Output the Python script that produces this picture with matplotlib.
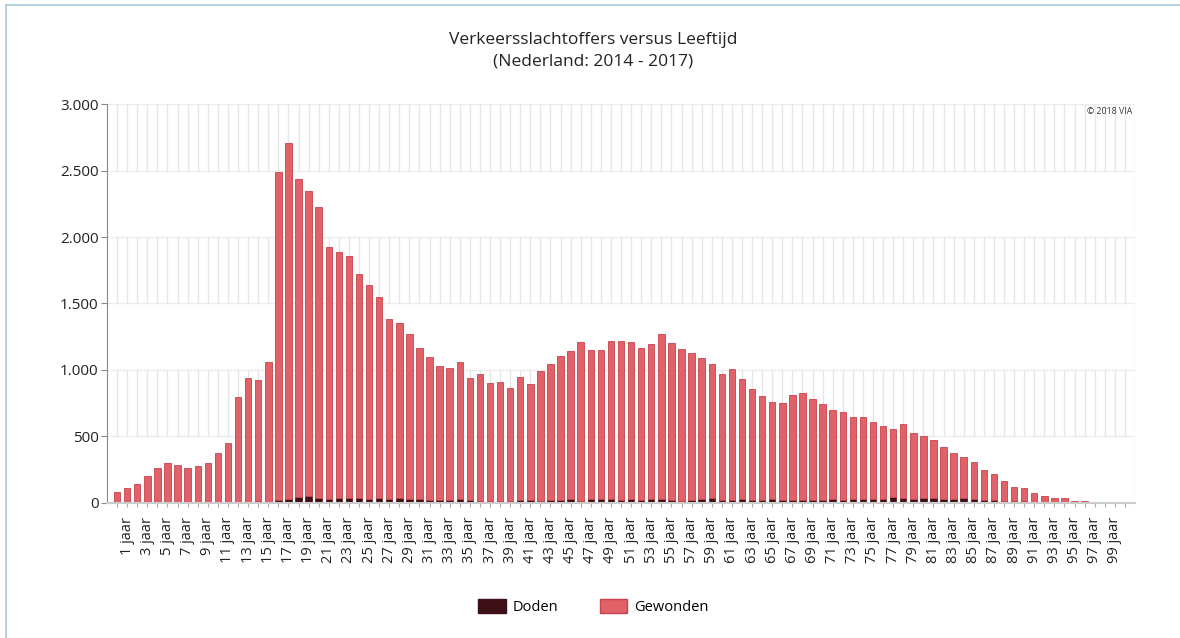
import numpy as np
import matplotlib
matplotlib.use("Agg")
import matplotlib.pyplot as plt
from matplotlib.ticker import FuncFormatter
from matplotlib.lines import Line2D

plt.rcParams['font.family'] = ['Open Sans', 'DejaVu Sans']

# leeftijd 0..100 jaar
ages = list(range(101))
age_labels = [f"{a} jaar" if a % 2 == 1 else "" for a in ages]

doden = [1, 1, 2, 5, 3, 3, 2, 2, 2, 3, 5, 3, 3, 4, 10, 8, 20, 25, 43, 48,
         35, 28, 33, 35, 35, 28, 35, 28, 33, 28, 25, 20, 20, 20, 30, 20, 15, 15, 15, 12,
         23, 23, 15, 20, 23, 28, 15, 28, 28, 28, 23, 28, 18, 28, 28, 20, 15, 23, 25, 38,
         18, 20, 25, 23, 18, 30, 18, 20, 20, 20, 18, 25, 18, 25, 28, 28, 25, 45, 33, 28,
         35, 35, 25, 28, 33, 25, 20, 20, 15, 15, 12, 8, 8, 3, 2, 1, 1, 0, 0, 0,
         0]

gewonden = [82, 107, 141, 196, 256, 293, 279, 257, 272, 293, 366, 444, 790, 935, 911, 1049,
            2467, 2683, 2392, 2296, 2189, 1895, 1855, 1822, 1687, 1609, 1511, 1355, 1317, 1240,
            1140, 1074, 1009, 992, 1028, 916, 951, 884, 891, 849, 921, 871, 976, 1022, 1084,
            1114, 1195, 1122, 1124, 1187, 1192, 1179, 1144, 1167, 1242, 1182, 1142, 1101, 1062,
            1004, 948, 984, 904, 835, 788, 731, 730, 793, 808, 758, 722, 670, 662, 618, 620,
            577, 555, 507, 559, 494, 464, 434, 394, 348, 313, 279, 226, 193, 146, 105, 96,
            62, 40, 32, 31, 9, 9, 4, 0, 4, 0]

yticks = [0, 500, 1000, 1500, 2000, 2500, 3000]

c_doden = '#3d0f17'
c_gewonden = '#e06268'
c_edge = '#c8434b'

fig = plt.figure(figsize=(11.8, 6.38), dpi=100)
ax = fig.add_axes([0.0907, 0.2121, 0.8712, 0.6244])

# grid: horizontal lines + vertical lines in alternating bands
for y in yticks:
    ax.axhline(y, color='#ececec', lw=1, zorder=0)
for lo, hi in [(500, 1000), (1500, 2000), (2500, 3000)]:
    ax.vlines(ages, lo, hi, color='#e6e6e6', lw=1, zorder=0)

ax.bar(ages, doden, width=0.64, color=c_doden, edgecolor=c_doden, lw=0.5, zorder=2, label='Doden')
ax.bar(ages, gewonden, width=0.64, bottom=doden, color=c_gewonden, edgecolor=c_edge, lw=0.6,
       zorder=2, label='Gewonden')

ax.set_xlim(-1, 101)
ax.set_ylim(0, 3000)
ax.set_yticks(yticks)
ax.yaxis.set_major_formatter(FuncFormatter(lambda v, p: f"{int(v):,}".replace(',', '.')))
ax.set_xticks(ages)
ax.set_xticklabels(age_labels, rotation=90, fontsize=10.5, color='#222222')
ax.tick_params(axis='y', labelsize=11, colors='#222222', length=4, color='#888888', pad=2)
ax.tick_params(axis='x', length=3, color='#aaaaaa', pad=7)

for s in ['top', 'right']:
    ax.spines[s].set_visible(False)
ax.spines['left'].set_color('#888888')
ax.spines['bottom'].set_color('#cccccc')
ax.spines['bottom'].set_linewidth(1.5)
ax.axvline(101, color='#e6e6e6', lw=1, zorder=0)

ax.text(0.9975, 0.992, '\u00a9 2018 VIA', transform=ax.transAxes, ha='right', va='top',
        fontsize=6.3, color='#333333')

fig.text(0.503, 0.937, 'Verkeersslachtoffers versus Leeftijd', ha='center', va='center',
         fontsize=12.5, color='#222222')
fig.text(0.503, 0.903, '(Nederland: 2014 - 2017)', ha='center', va='center',
         fontsize=12.5, color='#222222')

handles = [plt.Rectangle((0, 0), 1, 1, color=c_doden),
           plt.Rectangle((0, 0), 1, 1, facecolor=c_gewonden, edgecolor=c_edge)]
fig.legend(handles, ['Doden', 'Gewonden'], loc='center', bbox_to_anchor=(0.503, 0.048), ncol=2,
           frameon=False, fontsize=10.5, handlelength=1.9, handleheight=1.1, columnspacing=2.8,
           handletextpad=0.5)

# light blue frame at left and top
fig.add_artist(Line2D([0.005, 0.005], [0, 0.992], transform=fig.transFigure, color='#a9c9d9', lw=1.2))
fig.add_artist(Line2D([0.005, 1], [0.992, 0.992], transform=fig.transFigure, color='#a9c9d9', lw=1.2))

fig.savefig('out.png', dpi=100)
